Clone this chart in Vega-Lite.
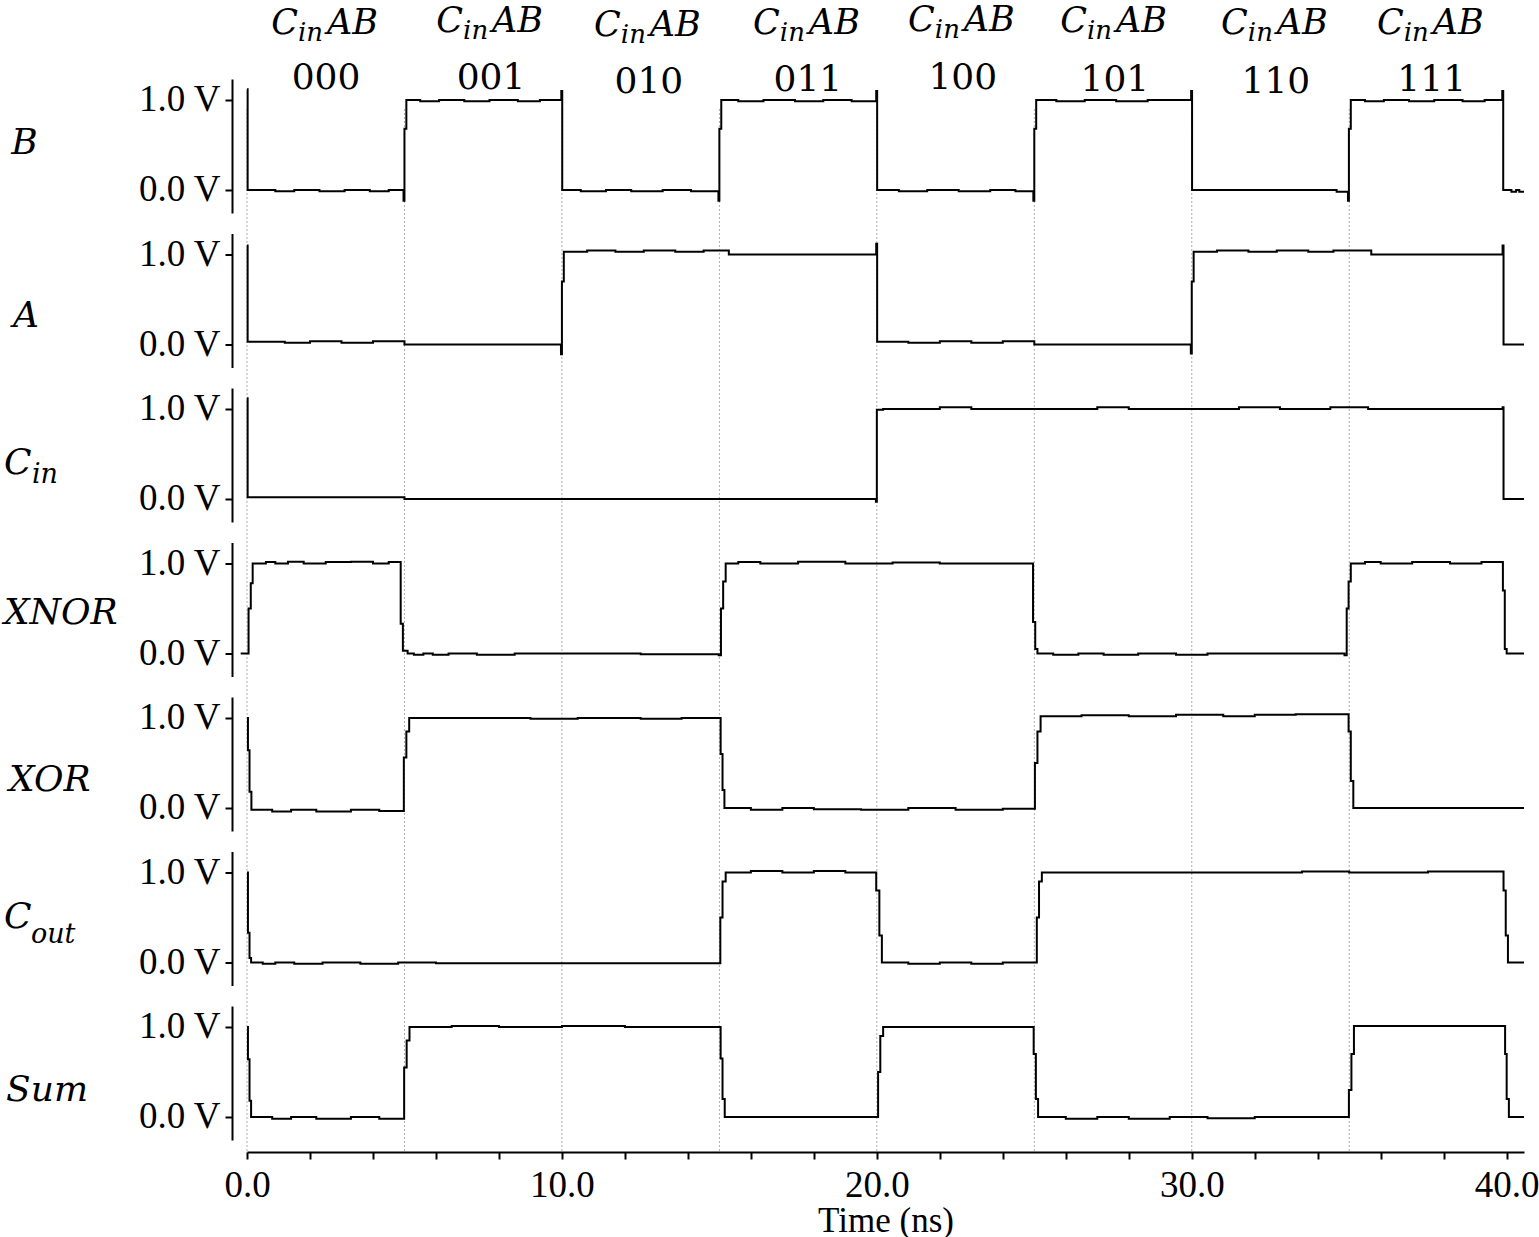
{
  "$schema": "https://vega.github.io/schema/vega-lite/v6.json",
  "background": "white",
  "padding": {"left": 3, "top": 2, "right": 0, "bottom": 0},
  "bounds": "flush",
  "spacing": {"row": 20.5},
  "data": {"values": [
    {"s":"B","k":"g","t":0,"v":0.9,"v2":-10.68},{"s":"B","k":"g","t":5,"v":0.9,"v2":-10.68},{"s":"B","k":"g","t":10,"v":0.9,"v2":-10.68},{"s":"B","k":"g","t":15,"v":0.9,"v2":-10.68},
    {"s":"B","k":"g","t":20,"v":0.9,"v2":-10.68},{"s":"B","k":"g","t":25,"v":0.9,"v2":-10.68},{"s":"B","k":"g","t":30,"v":0.9,"v2":-10.68},{"s":"B","k":"g","t":35,"v":0.9,"v2":-10.68},

    {"s":"B","k":"h","t":2.51,"v":1.736,"c":"C","sub":"in","ab":"AB"},
    {"s":"B","k":"h","t":7.75,"v":1.758,"c":"C","sub":"in","ab":"AB"},
    {"s":"B","k":"h","t":12.76,"v":1.714,"c":"C","sub":"in","ab":"AB"},
    {"s":"B","k":"h","t":17.81,"v":1.736,"c":"C","sub":"in","ab":"AB"},
    {"s":"B","k":"h","t":22.73,"v":1.769,"c":"C","sub":"in","ab":"AB"},
    {"s":"B","k":"h","t":27.56,"v":1.758,"c":"C","sub":"in","ab":"AB"},
    {"s":"B","k":"h","t":32.67,"v":1.736,"c":"C","sub":"in","ab":"AB"},
    {"s":"B","k":"h","t":37.62,"v":1.736,"c":"C","sub":"in","ab":"AB"},
    {"s":"B","k":"d","t":2.51,"v":1.122,"code":"000"},
    {"s":"B","k":"d","t":7.75,"v":1.122,"code":"001"},
    {"s":"B","k":"d","t":12.76,"v":1.078,"code":"010"},
    {"s":"B","k":"d","t":17.81,"v":1.1,"code":"011"},
    {"s":"B","k":"d","t":22.73,"v":1.122,"code":"100"},
    {"s":"B","k":"d","t":27.56,"v":1.1,"code":"101"},
    {"s":"B","k":"d","t":32.67,"v":1.078,"code":"110"},
    {"s":"B","k":"d","t":37.62,"v":1.1,"code":"111"},

    {"s":"B","k":"l","t":-7.49,"v":0.4,"txt":"B"},
    {"s":"A","k":"l","t":-7.43,"v":0.194,"txt":"A"},
    {"s":"Cin","k":"l","t":-7.72,"v":0.278,"txt":"C"},
    {"s":"Cin","k":"ls","t":-6.83,"v":0.178,"txt":"in"},
    {"s":"XNOR","k":"l","t":-7.72,"v":0.328,"txt":"XNOR"},
    {"s":"XOR","k":"l","t":-7.56,"v":0.189,"txt":"XOR"},
    {"s":"Cout","k":"l","t":-7.72,"v":0.383,"txt":"C"},
    {"s":"Cout","k":"ls","t":-6.86,"v":0.217,"txt":"out"},
    {"s":"Sum","k":"l","t":-7.65,"v":0.178,"txt":"Sum"},

    {"s":"B","k":"w","t":0,"v":1.12},{"s":"B","k":"w","t":0.02,"v":0},{"s":"B","k":"w","t":0.9,"v":-0.015},{"s":"B","k":"w","t":1.5,"v":0},
    {"s":"B","k":"w","t":2.3,"v":-0.015},{"s":"B","k":"w","t":3.1,"v":0},{"s":"B","k":"w","t":3.9,"v":-0.015},{"s":"B","k":"w","t":4.5,"v":0},
    {"s":"B","k":"w","t":4.97,"v":-0.12},{"s":"B","k":"w","t":5.0,"v":0.68},{"s":"B","k":"w","t":5.06,"v":1.0},{"s":"B","k":"w","t":5.5,"v":0.985},
    {"s":"B","k":"w","t":6.1,"v":1.0},{"s":"B","k":"w","t":6.9,"v":0.985},{"s":"B","k":"w","t":7.7,"v":1.0},{"s":"B","k":"w","t":8.6,"v":0.985},
    {"s":"B","k":"w","t":9.3,"v":1.0},{"s":"B","k":"w","t":9.98,"v":1.1},{"s":"B","k":"w","t":10.01,"v":0},{"s":"B","k":"w","t":10.6,"v":-0.015},
    {"s":"B","k":"w","t":11.4,"v":0},{"s":"B","k":"w","t":12.2,"v":-0.015},{"s":"B","k":"w","t":13.2,"v":0},{"s":"B","k":"w","t":14.1,"v":-0.015},
    {"s":"B","k":"w","t":14.97,"v":-0.12},{"s":"B","k":"w","t":15.0,"v":0.68},{"s":"B","k":"w","t":15.06,"v":1.0},{"s":"B","k":"w","t":15.6,"v":0.985},
    {"s":"B","k":"w","t":16.4,"v":1.0},{"s":"B","k":"w","t":17.4,"v":0.985},{"s":"B","k":"w","t":18.3,"v":1.0},{"s":"B","k":"w","t":19.2,"v":0.985},
    {"s":"B","k":"w","t":19.98,"v":1.1},{"s":"B","k":"w","t":20.01,"v":0},{"s":"B","k":"w","t":20.7,"v":-0.015},{"s":"B","k":"w","t":21.6,"v":0},
    {"s":"B","k":"w","t":22.6,"v":-0.015},{"s":"B","k":"w","t":23.6,"v":0},{"s":"B","k":"w","t":24.4,"v":-0.015},{"s":"B","k":"w","t":24.97,"v":-0.12},
    {"s":"B","k":"w","t":25.0,"v":0.68},{"s":"B","k":"w","t":25.06,"v":1.0},{"s":"B","k":"w","t":25.7,"v":0.985},{"s":"B","k":"w","t":26.6,"v":1.0},
    {"s":"B","k":"w","t":27.6,"v":0.985},{"s":"B","k":"w","t":28.6,"v":1.0},{"s":"B","k":"w","t":29.98,"v":1.1},{"s":"B","k":"w","t":30.01,"v":0},
    {"s":"B","k":"w","t":34.6,"v":-0.02},{"s":"B","k":"w","t":34.96,"v":-0.12},{"s":"B","k":"w","t":34.99,"v":0.68},{"s":"B","k":"w","t":35.05,"v":1.0},
    {"s":"B","k":"w","t":35.5,"v":0.985},{"s":"B","k":"w","t":36.1,"v":1.0},{"s":"B","k":"w","t":36.9,"v":0.985},{"s":"B","k":"w","t":37.7,"v":1.0},
    {"s":"B","k":"w","t":38.6,"v":0.985},{"s":"B","k":"w","t":39.3,"v":1.0},{"s":"B","k":"w","t":39.86,"v":1.1},{"s":"B","k":"w","t":39.89,"v":0},
    {"s":"B","k":"w","t":40.15,"v":-0.02},{"s":"B","k":"w","t":40.3,"v":0},{"s":"B","k":"w","t":40.4,"v":-0.02},{"s":"B","k":"w","t":40.55,"v":-0.02},

    {"s":"A","k":"w","t":0,"v":1.1},{"s":"A","k":"w","t":0.02,"v":0.03},{"s":"A","k":"w","t":1.2,"v":0.02},{"s":"A","k":"w","t":2.0,"v":0.035},
    {"s":"A","k":"w","t":3.0,"v":0.02},{"s":"A","k":"w","t":4.0,"v":0.035},{"s":"A","k":"w","t":5.0,"v":0},{"s":"A","k":"w","t":9.97,"v":-0.11},
    {"s":"A","k":"w","t":10.0,"v":0.7},{"s":"A","k":"w","t":10.06,"v":1.03},{"s":"A","k":"w","t":10.8,"v":1.045},{"s":"A","k":"w","t":11.7,"v":1.03},
    {"s":"A","k":"w","t":12.6,"v":1.045},{"s":"A","k":"w","t":13.6,"v":1.03},{"s":"A","k":"w","t":14.5,"v":1.045},{"s":"A","k":"w","t":15.3,"v":1.0},
    {"s":"A","k":"w","t":19.98,"v":1.12},{"s":"A","k":"w","t":20.01,"v":0.03},{"s":"A","k":"w","t":21.0,"v":0.02},{"s":"A","k":"w","t":22.0,"v":0.035},
    {"s":"A","k":"w","t":23.0,"v":0.02},{"s":"A","k":"w","t":24.0,"v":0.035},{"s":"A","k":"w","t":25.0,"v":0},{"s":"A","k":"w","t":29.97,"v":-0.1},
    {"s":"A","k":"w","t":30.0,"v":0.7},{"s":"A","k":"w","t":30.06,"v":1.03},{"s":"A","k":"w","t":30.8,"v":1.045},{"s":"A","k":"w","t":31.8,"v":1.03},
    {"s":"A","k":"w","t":32.7,"v":1.045},{"s":"A","k":"w","t":33.7,"v":1.03},{"s":"A","k":"w","t":34.5,"v":1.045},{"s":"A","k":"w","t":35.7,"v":1.0},
    {"s":"A","k":"w","t":39.87,"v":1.1},{"s":"A","k":"w","t":39.9,"v":0},{"s":"A","k":"w","t":40.55,"v":0},

    {"s":"Cin","k":"w","t":0,"v":1.12},{"s":"Cin","k":"w","t":0.02,"v":0.02},{"s":"Cin","k":"w","t":5.0,"v":0},{"s":"Cin","k":"w","t":19.97,"v":-0.03},
    {"s":"Cin","k":"w","t":20.0,"v":0.99},{"s":"Cin","k":"w","t":20.2,"v":1.0},{"s":"Cin","k":"w","t":22.0,"v":1.02},{"s":"Cin","k":"w","t":23.0,"v":1.0},
    {"s":"Cin","k":"w","t":27.0,"v":1.02},{"s":"Cin","k":"w","t":28.0,"v":1.0},{"s":"Cin","k":"w","t":31.5,"v":1.02},{"s":"Cin","k":"w","t":32.8,"v":1.0},
    {"s":"Cin","k":"w","t":34.4,"v":1.02},{"s":"Cin","k":"w","t":35.6,"v":1.0},{"s":"Cin","k":"w","t":39.87,"v":1.02},{"s":"Cin","k":"w","t":39.9,"v":0},
    {"s":"Cin","k":"w","t":40.55,"v":0},

    {"s":"XNOR","k":"w","t":-0.2,"v":0},{"s":"XNOR","k":"w","t":0.05,"v":0.5},{"s":"XNOR","k":"w","t":0.12,"v":0.78},{"s":"XNOR","k":"w","t":0.18,"v":1.0},
    {"s":"XNOR","k":"w","t":0.6,"v":1.015},{"s":"XNOR","k":"w","t":0.9,"v":1.0},{"s":"XNOR","k":"w","t":1.3,"v":1.02},{"s":"XNOR","k":"w","t":1.8,"v":1.0},
    {"s":"XNOR","k":"w","t":2.5,"v":1.015},{"s":"XNOR","k":"w","t":3.3,"v":1.02},{"s":"XNOR","k":"w","t":4.0,"v":1.0},{"s":"XNOR","k":"w","t":4.5,"v":1.015},
    {"s":"XNOR","k":"w","t":4.88,"v":0.33},{"s":"XNOR","k":"w","t":4.95,"v":0.03},{"s":"XNOR","k":"w","t":5.1,"v":0},{"s":"XNOR","k":"w","t":5.3,"v":-0.015},
    {"s":"XNOR","k":"w","t":5.6,"v":0},{"s":"XNOR","k":"w","t":5.9,"v":-0.015},{"s":"XNOR","k":"w","t":6.4,"v":0},{"s":"XNOR","k":"w","t":7.3,"v":-0.015},
    {"s":"XNOR","k":"w","t":8.5,"v":0},{"s":"XNOR","k":"w","t":12.5,"v":-0.01},{"s":"XNOR","k":"w","t":14.98,"v":-0.02},{"s":"XNOR","k":"w","t":15.05,"v":0.5},
    {"s":"XNOR","k":"w","t":15.12,"v":0.8},{"s":"XNOR","k":"w","t":15.2,"v":1.0},{"s":"XNOR","k":"w","t":15.6,"v":1.015},{"s":"XNOR","k":"w","t":16.3,"v":1.0},
    {"s":"XNOR","k":"w","t":17.5,"v":1.02},{"s":"XNOR","k":"w","t":19.0,"v":1.0},{"s":"XNOR","k":"w","t":20.5,"v":1.01},{"s":"XNOR","k":"w","t":22.0,"v":1.0},
    {"s":"XNOR","k":"w","t":24.96,"v":0.35},{"s":"XNOR","k":"w","t":25.03,"v":0.05},{"s":"XNOR","k":"w","t":25.1,"v":0},{"s":"XNOR","k":"w","t":25.6,"v":-0.015},
    {"s":"XNOR","k":"w","t":26.4,"v":0},{"s":"XNOR","k":"w","t":27.2,"v":-0.015},{"s":"XNOR","k":"w","t":28.3,"v":0},{"s":"XNOR","k":"w","t":29.5,"v":-0.015},
    {"s":"XNOR","k":"w","t":30.5,"v":0},{"s":"XNOR","k":"w","t":34.85,"v":-0.02},{"s":"XNOR","k":"w","t":34.92,"v":0.5},{"s":"XNOR","k":"w","t":34.98,"v":0.8},
    {"s":"XNOR","k":"w","t":35.05,"v":1.0},{"s":"XNOR","k":"w","t":35.5,"v":1.015},{"s":"XNOR","k":"w","t":36.0,"v":1.0},{"s":"XNOR","k":"w","t":37.0,"v":1.015},
    {"s":"XNOR","k":"w","t":38.2,"v":1.0},{"s":"XNOR","k":"w","t":39.2,"v":1.015},{"s":"XNOR","k":"w","t":39.88,"v":0.7},{"s":"XNOR","k":"w","t":39.94,"v":0.05},
    {"s":"XNOR","k":"w","t":40.0,"v":0},{"s":"XNOR","k":"w","t":40.55,"v":0},

    {"s":"XOR","k":"w","t":0,"v":1.0},{"s":"XOR","k":"w","t":0.03,"v":0.64},{"s":"XOR","k":"w","t":0.08,"v":0.18},{"s":"XOR","k":"w","t":0.14,"v":-0.02},
    {"s":"XOR","k":"w","t":0.8,"v":-0.04},{"s":"XOR","k":"w","t":1.4,"v":-0.02},{"s":"XOR","k":"w","t":2.2,"v":-0.04},{"s":"XOR","k":"w","t":3.3,"v":-0.02},
    {"s":"XOR","k":"w","t":4.2,"v":-0.035},{"s":"XOR","k":"w","t":4.98,"v":0.56},{"s":"XOR","k":"w","t":5.06,"v":0.85},{"s":"XOR","k":"w","t":5.15,"v":1.0},
    {"s":"XOR","k":"w","t":9.0,"v":0.99},{"s":"XOR","k":"w","t":10.5,"v":1.0},{"s":"XOR","k":"w","t":12.5,"v":0.99},{"s":"XOR","k":"w","t":13.8,"v":1.0},
    {"s":"XOR","k":"w","t":15.04,"v":0.6},{"s":"XOR","k":"w","t":15.1,"v":0.2},{"s":"XOR","k":"w","t":15.16,"v":0},{"s":"XOR","k":"w","t":16.0,"v":-0.02},
    {"s":"XOR","k":"w","t":17.0,"v":0},{"s":"XOR","k":"w","t":18.0,"v":-0.015},{"s":"XOR","k":"w","t":19.5,"v":-0.02},{"s":"XOR","k":"w","t":21.0,"v":0},
    {"s":"XOR","k":"w","t":22.5,"v":-0.02},{"s":"XOR","k":"w","t":24.0,"v":-0.01},{"s":"XOR","k":"w","t":25.02,"v":0.5},{"s":"XOR","k":"w","t":25.1,"v":0.85},
    {"s":"XOR","k":"w","t":25.2,"v":1.02},{"s":"XOR","k":"w","t":26.5,"v":1.03},{"s":"XOR","k":"w","t":28.0,"v":1.02},{"s":"XOR","k":"w","t":29.5,"v":1.035},
    {"s":"XOR","k":"w","t":31.0,"v":1.02},{"s":"XOR","k":"w","t":32.0,"v":1.035},{"s":"XOR","k":"w","t":33.3,"v":1.04},{"s":"XOR","k":"w","t":34.98,"v":0.85},
    {"s":"XOR","k":"w","t":35.05,"v":0.3},{"s":"XOR","k":"w","t":35.13,"v":0},{"s":"XOR","k":"w","t":40.55,"v":0},

    {"s":"Cout","k":"w","t":0,"v":1.0},{"s":"Cout","k":"w","t":0.03,"v":0.33},{"s":"Cout","k":"w","t":0.08,"v":0.05},{"s":"Cout","k":"w","t":0.13,"v":0},
    {"s":"Cout","k":"w","t":0.5,"v":-0.015},{"s":"Cout","k":"w","t":0.9,"v":0},{"s":"Cout","k":"w","t":1.5,"v":-0.015},{"s":"Cout","k":"w","t":2.4,"v":0},
    {"s":"Cout","k":"w","t":3.6,"v":-0.015},{"s":"Cout","k":"w","t":4.8,"v":0},{"s":"Cout","k":"w","t":6.0,"v":-0.01},{"s":"Cout","k":"w","t":15.03,"v":0.5},
    {"s":"Cout","k":"w","t":15.1,"v":0.9},{"s":"Cout","k":"w","t":15.2,"v":1.0},{"s":"Cout","k":"w","t":16.0,"v":1.015},{"s":"Cout","k":"w","t":17.0,"v":1.0},
    {"s":"Cout","k":"w","t":18.0,"v":1.015},{"s":"Cout","k":"w","t":19.0,"v":1.0},{"s":"Cout","k":"w","t":19.98,"v":0.8},{"s":"Cout","k":"w","t":20.08,"v":0.3},
    {"s":"Cout","k":"w","t":20.16,"v":0},{"s":"Cout","k":"w","t":21.0,"v":-0.015},{"s":"Cout","k":"w","t":22.0,"v":0},{"s":"Cout","k":"w","t":23.0,"v":-0.015},
    {"s":"Cout","k":"w","t":24.0,"v":0},{"s":"Cout","k":"w","t":25.08,"v":0.5},{"s":"Cout","k":"w","t":25.15,"v":0.9},{"s":"Cout","k":"w","t":25.24,"v":1.0},
    {"s":"Cout","k":"w","t":33.5,"v":1.01},{"s":"Cout","k":"w","t":35.0,"v":1.0},{"s":"Cout","k":"w","t":37.5,"v":1.01},{"s":"Cout","k":"w","t":39.9,"v":0.8},
    {"s":"Cout","k":"w","t":39.97,"v":0.3},{"s":"Cout","k":"w","t":40.04,"v":0},{"s":"Cout","k":"w","t":40.55,"v":0},

    {"s":"Sum","k":"w","t":0,"v":1.0},{"s":"Sum","k":"w","t":0.03,"v":0.64},{"s":"Sum","k":"w","t":0.08,"v":0.18},{"s":"Sum","k":"w","t":0.13,"v":0},
    {"s":"Sum","k":"w","t":0.8,"v":-0.02},{"s":"Sum","k":"w","t":1.4,"v":0},{"s":"Sum","k":"w","t":2.2,"v":-0.02},{"s":"Sum","k":"w","t":3.3,"v":0},
    {"s":"Sum","k":"w","t":4.2,"v":-0.02},{"s":"Sum","k":"w","t":4.99,"v":0.55},{"s":"Sum","k":"w","t":5.07,"v":0.85},{"s":"Sum","k":"w","t":5.16,"v":1.0},
    {"s":"Sum","k":"w","t":6.5,"v":1.01},{"s":"Sum","k":"w","t":8.0,"v":1.0},{"s":"Sum","k":"w","t":10.0,"v":1.01},{"s":"Sum","k":"w","t":12.0,"v":1.0},
    {"s":"Sum","k":"w","t":15.04,"v":0.65},{"s":"Sum","k":"w","t":15.1,"v":0.2},{"s":"Sum","k":"w","t":15.17,"v":0},{"s":"Sum","k":"w","t":20.04,"v":0.5},
    {"s":"Sum","k":"w","t":20.11,"v":0.9},{"s":"Sum","k":"w","t":20.2,"v":1.0},{"s":"Sum","k":"w","t":24.98,"v":0.7},{"s":"Sum","k":"w","t":25.05,"v":0.2},
    {"s":"Sum","k":"w","t":25.12,"v":0},{"s":"Sum","k":"w","t":26.0,"v":-0.02},{"s":"Sum","k":"w","t":27.0,"v":0},{"s":"Sum","k":"w","t":28.0,"v":-0.02},
    {"s":"Sum","k":"w","t":29.3,"v":0},{"s":"Sum","k":"w","t":30.5,"v":-0.015},{"s":"Sum","k":"w","t":32.0,"v":0},{"s":"Sum","k":"w","t":34.99,"v":0.3},
    {"s":"Sum","k":"w","t":35.07,"v":0.7},{"s":"Sum","k":"w","t":35.15,"v":1.01},{"s":"Sum","k":"w","t":39.95,"v":0.7},{"s":"Sum","k":"w","t":40.0,"v":0.2},
    {"s":"Sum","k":"w","t":40.07,"v":0},{"s":"Sum","k":"w","t":40.55,"v":0}
  ]},
  "facet": {
    "row": {
      "field": "s", "type": "nominal",
      "sort": ["B","A","Cin","XNOR","XOR","Cout","Sum"],
      "header": {"labels": false, "title": null, "labelPadding": 0, "titlePadding": 0}
    }
  },
  "spec": {
    "width": 1277,
    "height": 134,
    "encoding": {
      "x": {
        "field": "t", "type": "quantitative",
        "scale": {"domain": [0, 40.55], "nice": false, "zero": false},
        "axis": {
          "values": [0,2,4,6,8,10,12,14,16,18,20,22,24,26,28,30,32,34,36,38,40],
          "labelExpr": "datum.value % 10 === 0 ? format(datum.value, '.1f') : ''",
          "title": "Time (ns)",
          "offset": 12,
          "grid": false,
          "tickSize": 7, "tickWidth": 2, "tickColor": "#000",
          "domainWidth": 2, "domainColor": "#000",
          "labelFont": "Liberation Serif", "labelFontSize": 37, "labelColor": "#000",
          "labelPadding": 8, "labelFlush": false, "labelOverlap": false,
          "titleFont": "Liberation Serif", "titleFontSize": 35, "titleFontWeight": "normal", "titleColor": "#000",
          "titlePadding": 0
        }
      },
      "y": {
        "field": "v", "type": "quantitative",
        "scale": {"domain": [-0.256, 1.233], "nice": false, "zero": false},
        "axis": {
          "values": [0, 1],
          "labelExpr": "format(datum.value, '.1f') + ' V'",
          "title": null,
          "offset": 15,
          "grid": false,
          "tickSize": 7, "tickWidth": 2, "tickColor": "#000",
          "domainWidth": 2, "domainColor": "#000",
          "labelFont": "Liberation Serif", "labelFontSize": 37, "labelColor": "#000",
          "labelPadding": 5
        }
      }
    },
    "layer": [
      {
        "transform": [{"filter": "datum.k === 'g'"}],
        "mark": {"type": "rule", "color": "#aaaaaa", "strokeWidth": 1, "strokeDash": [2, 2], "clip": false},
        "encoding": {
          "y2": {"field": "v2"}
        }
      },
      {
        "transform": [{"filter": "datum.k === 'w'"}],
        "mark": {"type": "line", "interpolate": "step-after", "color": "#000", "strokeWidth": 2, "clip": false}
      },
      {
        "transform": [{"filter": "datum.k === 'l'"}],
        "mark": {"type": "text", "align": "left", "baseline": "alphabetic", "font": "DejaVu Serif", "fontStyle": "italic", "fontSize": 36, "color": "#000"},
        "encoding": {"text": {"field": "txt"}}
      },
      {
        "transform": [{"filter": "datum.k === 'ls'"}],
        "mark": {"type": "text", "align": "left", "baseline": "alphabetic", "font": "DejaVu Serif", "fontStyle": "italic", "fontSize": 27, "color": "#000"},
        "encoding": {"text": {"field": "txt"}}
      },
      {
        "transform": [{"filter": "datum.k === 'h'"}],
        "mark": {"type": "text", "align": "right", "baseline": "alphabetic", "dx": -28, "font": "DejaVu Serif", "fontStyle": "italic", "fontSize": 35, "color": "#000"},
        "encoding": {"text": {"field": "c"}}
      },
      {
        "transform": [{"filter": "datum.k === 'h'"}],
        "mark": {"type": "text", "align": "left", "baseline": "alphabetic", "dx": -28, "dy": 7, "font": "DejaVu Serif", "fontStyle": "italic", "fontSize": 26, "color": "#000"},
        "encoding": {"text": {"field": "sub"}}
      },
      {
        "transform": [{"filter": "datum.k === 'h'"}],
        "mark": {"type": "text", "align": "left", "baseline": "alphabetic", "dx": 1, "font": "DejaVu Serif", "fontStyle": "italic", "fontSize": 35, "color": "#000"},
        "encoding": {"text": {"field": "ab"}}
      },
      {
        "transform": [{"filter": "datum.k === 'd'"}],
        "mark": {"type": "text", "align": "center", "baseline": "alphabetic", "font": "DejaVu Serif", "fontSize": 36, "color": "#000"},
        "encoding": {"text": {"field": "code"}}
      }
    ]
  },
  "config": {
    "view": {"stroke": null}
  }
}
